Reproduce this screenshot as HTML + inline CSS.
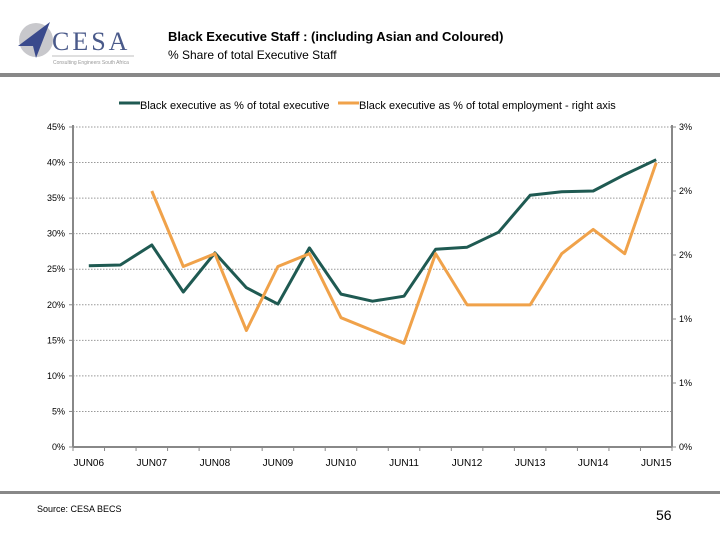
<!DOCTYPE html>
<html><head><meta charset="utf-8"><style>
body{margin:0;background:#fff;font-family:"Liberation Sans",sans-serif;}
#wrap{position:relative;width:720px;height:540px;overflow:hidden;}
</style></head><body>
<div id="wrap">
<svg width="720" height="540" id="svg" style="position:absolute;left:0;top:0">
  <g>
    <circle cx="36" cy="40" r="17" fill="#c8c8cc"/>
    <polygon points="18,46 50,22 36,58 33,46" fill="#3a4a8c"/>
    <text x="52" y="50" font-family="Liberation Serif,serif" font-size="26" fill="#4a5a8a" letter-spacing="3">CESA</text>
    <line x1="52" y1="56" x2="134" y2="56" stroke="#aaa" stroke-width="0.7"/>
    <text x="53" y="64" font-size="5" fill="#999">Consulting Engineers South Africa</text>
  </g>
  <text x="168" y="41" font-size="13" font-weight="bold" fill="#000">Black Executive Staff : (including Asian and Coloured)</text>
  <text x="168" y="59" font-size="12" fill="#000">% Share of total Executive Staff</text>
  <rect x="0" y="73" width="720" height="4" fill="#888"/>
  <rect x="0" y="491" width="720" height="3" fill="#888"/>
  <g>
    <line x1="119" y1="103" x2="140" y2="103" stroke="#1f5a52" stroke-width="3"/>
    <text x="140" y="109" font-size="11">Black executive as % of total executive</text>
    <line x1="338" y1="103" x2="359" y2="103" stroke="#f0a24a" stroke-width="3"/>
    <text x="359" y="109" font-size="11">Black executive as % of total employment - right axis</text>
  </g>
  <text x="37" y="512" font-size="9">Source: CESA BECS</text>
  <text x="656" y="520" font-size="14">56</text>
  <g id="plot"></g>
</svg>
</div>
<script>
const categories=["JUN06","DEC06","JUN07","DEC07","JUN08","DEC08","JUN09","DEC09","JUN10","DEC10","JUN11","DEC11","JUN12","DEC12","JUN13","DEC13","JUN14","DEC14","JUN15"];
const execShare=[25.5,25.6,28.4,21.8,27.3,22.4,20.1,28.0,21.5,20.5,21.2,27.8,28.1,30.2,35.4,35.9,36.0,38.3,40.4];
const employShare=[null,null,2.0,1.41,1.51,0.91,1.41,1.51,1.01,0.91,0.81,1.51,1.11,1.11,1.11,1.51,1.70,1.51,2.22];
const leftTicks=[0,5,10,15,20,25,30,35,40,45];
const rightTicks=[0,0.5,1,1.5,2,2.5];
const rightLabels=["0%","1%","1%","2%","2%","3%"];
const xLabels=["JUN06","JUN07","JUN08","JUN09","JUN10","JUN11","JUN12","JUN13","JUN14","JUN15"];

const X0=73,X1=672,Y0=447,Y1=127;
const bw=(X1-X0)/categories.length;
const x=i=>X0+bw*(i+0.5);
const yL=v=>Y0-(v/45)*(Y0-Y1);
const yR=v=>Y0-(v/2.5)*(Y0-Y1);
const g=document.getElementById('plot');
const NS='http://www.w3.org/2000/svg';
function mk(t,a){const e=document.createElementNS(NS,t);for(const k in a)e.setAttribute(k,a[k]);g.appendChild(e);return e;}
leftTicks.forEach(v=>{
  if(v>0){const l=mk('line',{x1:X0,x2:X1,y1:yL(v),y2:yL(v),stroke:'#999','stroke-dasharray':'1.5,1.5'});
  
  }
  mk('line',{x1:X0-4,x2:X0,y1:yL(v),y2:yL(v),stroke:'#888'});
  const t=mk('text',{x:X0-8,y:yL(v)+3,'font-size':9,'text-anchor':'end'});t.textContent=v+'%';
  
  
});
rightTicks.forEach((v,i)=>{
  mk('line',{x1:X1,x2:X1+4,y1:yR(v),y2:yR(v),stroke:'#888'});
  const t=mk('text',{x:X1+7,y:yR(v)+3,'font-size':9});t.textContent=rightLabels[i];
  
  
});
const la=mk('line',{x1:X0,x2:X0,y1:Y1-2,y2:Y0,stroke:'#888','stroke-width':2});


const ra=mk('line',{x1:X1,x2:X1,y1:Y1-2,y2:Y0,stroke:'#888','stroke-width':2});


const xa=mk('line',{x1:X0,x2:X1,y1:Y0,y2:Y0,stroke:'#888','stroke-width':2});


for(let i=0;i<=categories.length;i++)mk('line',{x1:X0+bw*i,x2:X0+bw*i,y1:Y0,y2:Y0+4,stroke:'#888'});
xLabels.forEach((s,i)=>{
  const t=mk('text',{x:x(i*2),y:Y0+19,'font-size':10,'text-anchor':'middle'});t.textContent=s;
  
  
});
function series(vals,yf,col,name){
  let d='';vals.forEach((v,i)=>{if(v==null)return;d+=(d?'L':'M')+x(i).toFixed(1)+','+yf(v).toFixed(1);});
  const p=mk('path',{d:d,fill:'none',stroke:col,'stroke-width':3,'stroke-linejoin':'round'});
  
  
}
series(execShare,yL,'#1f5a52','line-executive-share');
series(employShare,yR,'#f0a24a','line-employment-share');
</script>
</body></html>
